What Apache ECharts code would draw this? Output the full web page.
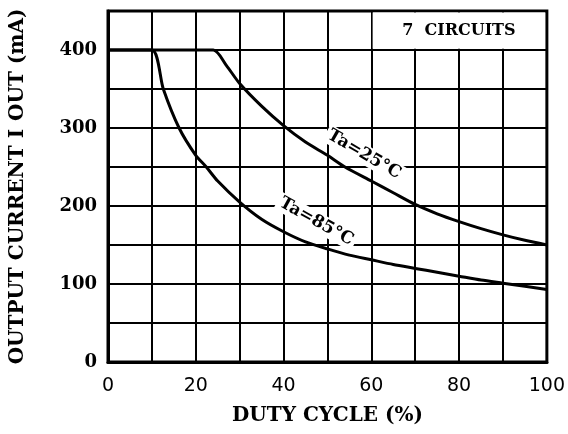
<!DOCTYPE html>
<html>
<head>
<meta charset="utf-8">
<script src="https://cdn.jsdelivr.net/npm/echarts@6/dist/echarts.min.js"></script>
<style>
  html, body { margin: 0; padding: 0; background: #fff; }
  #chart { width: 568px; height: 434px; }
</style>
</head>
<body>
<div id="chart"></div>
<script>
// 读图得到的数据点
var duty25 = [0, 24, 27, 30, 35, 40, 45, 50, 54, 60, 65, 70, 75, 80, 85, 90, 95, 100];
var iout25 = [400, 400, 380, 357, 328, 303, 282, 265, 250, 232, 217, 202, 190, 180, 171, 163, 156, 150];
var duty85 = [0, 10, 12.6, 16.2, 20, 22.4, 25, 30, 35, 40, 45, 50, 55, 60, 65, 70, 75, 80, 85, 90, 95, 100];
var iout85 = [400, 400, 350, 300, 265, 250, 232, 205, 183, 167, 154, 145, 137, 131, 125, 120, 115, 110, 105, 101, 97, 93];
var xTicks = [0, 20, 40, 60, 80, 100];
var yTicks = [0, 100, 200, 300, 400];

function pairs(xs, ys) {
    return xs.map(function (x, i) { return [x, ys[i]]; });
}

var serif = 'DejaVu Serif';
var chart = echarts.init(document.getElementById('chart'));

var option = {
    animation: false,
    grid: {
        left: 108, right: 19, top: 11, bottom: 72,
        show: true,
        borderColor: '#000',
        borderWidth: 3
    },
    xAxis: {
        type: 'value',
        min: 0, max: 100, interval: 10,
        name: 'DUTY CYCLE (%)',
        nameLocation: 'middle',
        nameGap: 44,
        nameTextStyle: { fontFamily: serif, fontWeight: 'bold', fontSize: 20, color: '#000' },
        axisLine: { lineStyle: { color: '#000', width: 3 } },
        axisTick: { show: false },
        axisLabel: {
            margin: 15,
            fontFamily: 'DejaVu Sans', fontSize: 19, color: '#000',
            formatter: function (v) { return xTicks.indexOf(v) >= 0 ? v : ''; }
        },
        splitLine: { lineStyle: { color: '#000', width: 2 } }
    },
    yAxis: {
        type: 'value',
        min: 0, max: 450, interval: 50,
        name: 'OUTPUT CURRENT I{sub|OUT} (mA)',
        nameLocation: 'middle',
        nameGap: 80,
        nameTextStyle: {
            fontFamily: serif, fontWeight: 'bold', fontSize: 20, color: '#000',
            rich: { sub: { fontFamily: serif, fontWeight: 'bold', fontSize: 20, color: '#000', padding: [0, 0, 0, 8] } }
        },
        axisLine: { lineStyle: { color: '#000', width: 3 } },
        axisTick: { show: false },
        axisLabel: {
            margin: 11,
            fontFamily: serif, fontWeight: 'bold', fontSize: 18, color: '#000',
            formatter: function (v) { return yTicks.indexOf(v) >= 0 ? v : ''; }
        },
        splitLine: { lineStyle: { color: '#000', width: 2 } }
    },
    series: [
        {
            name: 'Ta=25°C',
            type: 'line',
            data: pairs(duty25, iout25),
            smooth: 0.25,
            showSymbol: false,
            lineStyle: { color: '#000', width: 3 },
            markArea: {
                silent: true,
                itemStyle: { color: '#fff' },
                label: {
                    show: true, position: 'inside',
                    fontFamily: serif, fontWeight: 'bold', fontSize: 16, color: '#000'
                },
                data: [[
                    { name: '7  CIRCUITS', coord: [60.3, 401.5] },
                    { coord: [99.6, 448] }
                ]]
            },
            markPoint: {
                symbol: 'rect',
                symbolSize: 0,
                label: {
                    show: true, position: 'inside',
                    rotate: -30,
                    backgroundColor: '#fff',
                    padding: [1, 3],
                    fontFamily: serif, fontWeight: 'bold', fontSize: 17, color: '#000',
                    formatter: '{b}'
                },
                data: [{ name: 'Ta=25°C', coord: [58.4, 266] }]
            },
            z: 3
        },
        {
            name: 'Ta=85°C',
            type: 'line',
            data: pairs(duty85, iout85),
            smooth: 0.25,
            showSymbol: false,
            lineStyle: { color: '#000', width: 3 },
            markPoint: {
                symbol: 'rect',
                symbolSize: 0,
                label: {
                    show: true, position: 'inside',
                    rotate: -29,
                    backgroundColor: '#fff',
                    padding: [1, 3],
                    fontFamily: serif, fontWeight: 'bold', fontSize: 17, color: '#000',
                    formatter: '{b}'
                },
                data: [{ name: 'Ta=85°C', coord: [47.5, 180] }]
            },
            z: 3
        }
    ]
};

chart.setOption(option);
</script>
</body>
</html>
